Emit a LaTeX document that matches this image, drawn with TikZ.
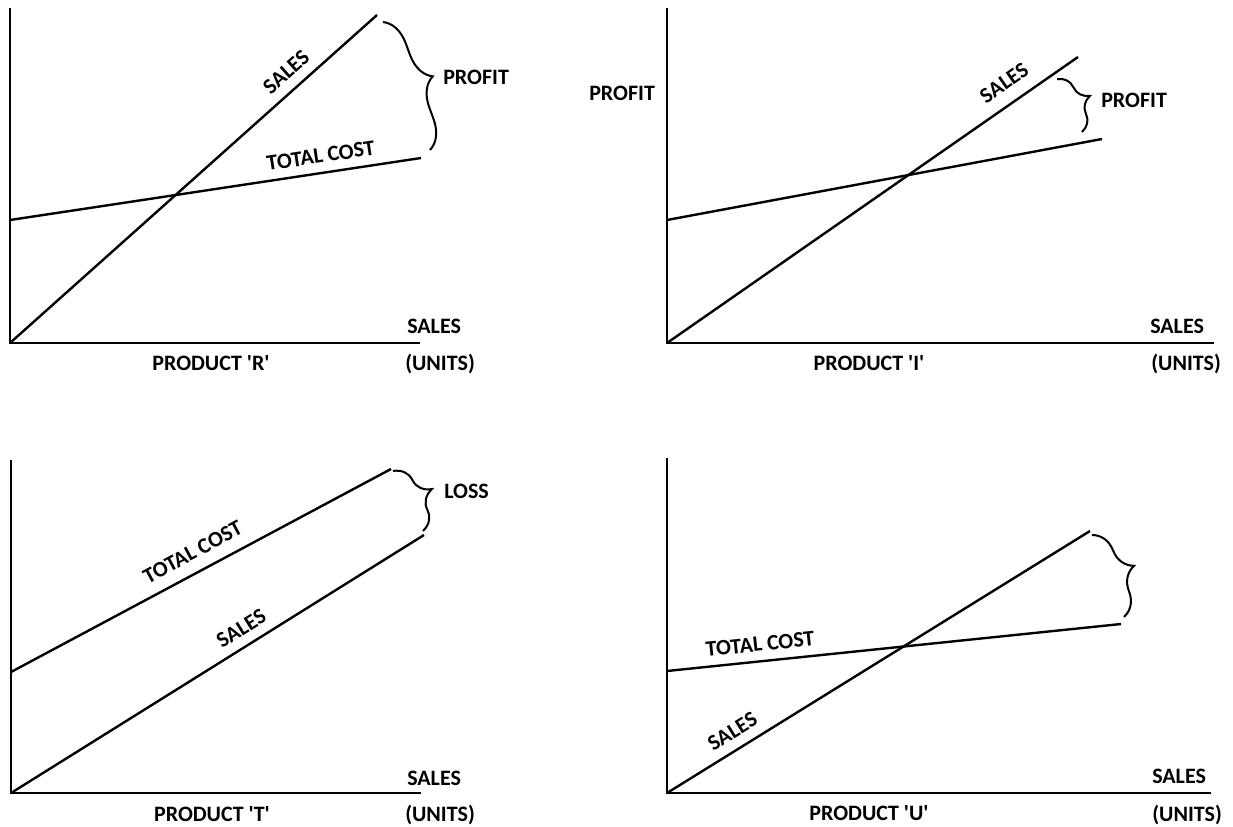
\documentclass[tikz,border=0pt]{standalone}
\usepackage{fontspec}
\newfontfamily\chartfont{Carlito}
\usetikzlibrary{decorations.pathreplacing}
\begin{document}
\begin{tikzpicture}[x=0.75pt,y=-0.75pt,
  axis/.style={line width=2.2pt, line join=miter},
  curve/.style={line width=1.8pt},
  gap/.style={line width=1.5pt, decorate, decoration={brace, amplitude=#1}},
  lbl/.style={font=\chartfont\bfseries\fontsize{16.5}{18}\selectfont, inner sep=0pt, text depth=0pt},
  along/.style 2 args={lbl, sloped, pos=#1, above=#2},
]
\fill[white] (0,0) rectangle (1233,826);
\useasboundingbox (0,0) rectangle (1233,826);

% ---------- Product R ----------
\coordinate (R-top) at (10,8);
\coordinate (R-o) at (10,343);
\coordinate (R-x) at (420,343);
\coordinate (R-s) at (377,15);
\coordinate (R-c0) at (10,220);
\coordinate (R-c1) at (421,158);
\coordinate (R-b0) at (383,22);
\coordinate (R-b1) at (430,150);
\draw[axis] (R-top) -- (R-o) -- (R-x);
\draw[curve] (R-o) -- node[along={0.785}{7.3pt}] {SALES} (R-s);
\draw[curve] (R-c0) -- node[along={0.762}{6.6pt}] {TOTAL COST} (R-c1);
\draw[gap=21pt] (R-b0) -- (R-b1);
\node[lbl, anchor=west] (R-profit) at (443,77) {PROFIT};
\node[lbl, anchor=base west] (R-sales) at (407,333) {SALES};
\node[lbl, anchor=base west] (R-units) at (405,370) {(UNITS)};
\node[lbl, anchor=base] (R-name) at (211,370) {PRODUCT \textquotesingle R\textquotesingle};

% ---------- Product I ----------
\coordinate (I-top) at (667,8);
\coordinate (I-o) at (667,343);
\coordinate (I-x) at (1214,343);
\coordinate (I-s) at (1078,57);
\coordinate (I-c0) at (667,220);
\coordinate (I-c1) at (1102,139);
\coordinate (I-b0) at (1057,79);
\coordinate (I-b1) at (1082,132);
\draw[axis] (I-top) -- (I-o) -- (I-x);
\draw[curve] (I-o) -- node[along={0.849}{9.4pt}] {SALES} (I-s);
\draw[curve] (I-c0) -- (I-c1);
\draw[gap=17pt] (I-b0) -- (I-b1);
\node[lbl, anchor=west] (I-profit) at (1101,100) {PROFIT};
\node[lbl, anchor=west] (I-yaxis) at (589,93) {PROFIT};
\node[lbl, anchor=base west] (I-sales) at (1150,333) {SALES};
\node[lbl, anchor=base west] (I-units) at (1151,370) {(UNITS)};
\node[lbl, anchor=base] (I-name) at (869,370) {PRODUCT \textquotesingle I\textquotesingle};

% ---------- Product T ----------
\coordinate (T-top) at (11,460);
\coordinate (T-o) at (11,793);
\coordinate (T-x) at (421,793);
\coordinate (T-c0) at (11,672);
\coordinate (T-c1) at (391,469);
\coordinate (T-s) at (424,535);
\coordinate (T-b0) at (393,471);
\coordinate (T-b1) at (423,531);
\draw[axis] (T-top) -- (T-o) -- (T-x);
\draw[curve] (T-c0) -- node[along={0.503}{8.8pt}] {TOTAL COST} (T-c1);
\draw[curve] (T-o) -- node[along={0.58}{7pt}] {SALES} (T-s);
\draw[gap=20pt] (T-b0) -- (T-b1);
\node[lbl, anchor=west] (T-loss) at (444,491) {LOSS};
\node[lbl, anchor=base west] (T-sales) at (407,785) {SALES};
\node[lbl, anchor=base west] (T-units) at (405,821) {(UNITS)};
\node[lbl, anchor=base] (T-name) at (212,821) {PRODUCT \textquotesingle T\textquotesingle};

% ---------- Product U ----------
\coordinate (U-top) at (667,458);
\coordinate (U-o) at (667,793);
\coordinate (U-x) at (1211,793);
\coordinate (U-s) at (1090,531);
\coordinate (U-c0) at (667,671);
\coordinate (U-c1) at (1121,624);
\coordinate (U-b0) at (1092,535);
\coordinate (U-b1) at (1124,617);
\draw[axis] (U-top) -- (U-o) -- (U-x);
\draw[curve] (U-o) -- node[along={0.177}{7.3pt}] {SALES} (U-s);
\draw[curve] (U-c0) -- node[along={0.209}{6.8pt}] {TOTAL COST} (U-c1);
\draw[gap=21pt] (U-b0) -- (U-b1);
\node[lbl, anchor=base west] (U-sales) at (1152,783) {SALES};
\node[lbl, anchor=base west] (U-units) at (1152,821) {(UNITS)};
\node[lbl, anchor=base] (U-name) at (869,820) {PRODUCT \textquotesingle U\textquotesingle};
\end{tikzpicture}
\end{document}
